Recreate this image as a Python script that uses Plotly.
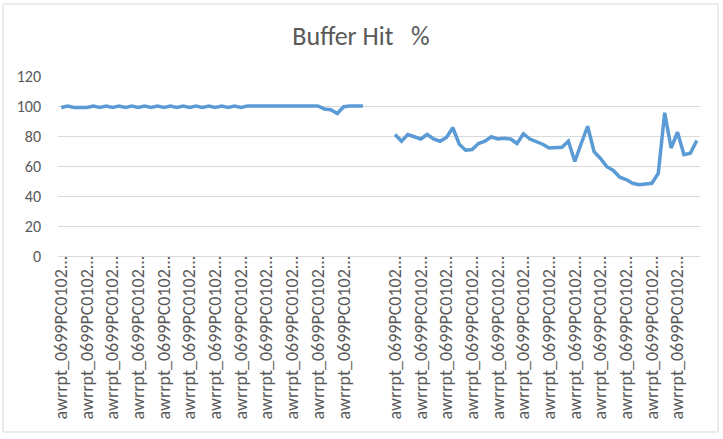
import plotly.graph_objects as go

# category labels as Excel shows them (truncated); 4 blank separator rows in the middle
report_name = "awrrpt_0699PC0102..."
categories = [report_name] * 48 + [""] * 4 + [report_name] * 48

# buffer hit % per report, None where the separator rows are
hit_pct_before = [99, 100, 99, 99, 99, 100, 99, 100, 99, 100,
                  99, 100, 99, 100, 99, 100, 99, 100, 99, 100,
                  99, 100, 99, 100, 99, 100, 99, 100, 99, 100,
                  100, 100, 100, 100, 100, 100, 100, 100, 100, 100,
                  100, 98, 97.5, 95, 99.5, 100, 100, 100]
gap = [None, None, None, None]
hit_pct_after = [81, 76.5, 81, 79.5, 78, 81, 78, 76.5, 79, 85.5,
                 74.5, 70.5, 71, 75, 76.5, 79.5, 78, 78.5, 78, 75,
                 81.5, 78, 76.5, 74.5, 72, 72, 72.5, 76.5, 63, 75,
                 86.5, 69.5, 65, 59.5, 57, 52.5, 51, 48.5, 47.5, 48,
                 48.5, 55, 95.5, 72, 82.5, 67.5, 68.5, 77]
hit_pct = hit_pct_before + gap + hit_pct_after

y_ticks = [0, 20, 40, 60, 80, 100, 120]

x_idx = list(range(len(categories)))
tick_vals = [i for i in x_idx if i % 4 == 0 and categories[i]]
tick_text = [categories[i] for i in tick_vals]

grey_txt = "#595959"
grid_col = "#d9d9d9"
font_fam = "Carlito, Calibri, Lato, sans-serif"

fig = go.Figure()
fig.add_trace(go.Scatter(
    x=x_idx, y=hit_pct,
    mode="lines",
    line=dict(color="#5b9bd5", width=3.5),
    connectgaps=False,
    showlegend=False,
))

# plot area in pixels: left 58, right 23, top 76, bottom 183
W, H = 723, 439
ml, mr, mt, mb = 58, 23, 76, 183
pw, ph = W - ml - mr, H - mt - mb

def px_x(x):
    return (x - ml) / pw

def px_y(y):
    return (H - mb - y) / ph

fig.update_layout(
    width=W, height=H,
    margin=dict(l=ml, r=mr, t=mt, b=mb),
    paper_bgcolor="white",
    plot_bgcolor="white",
    font=dict(family=font_fam, color=grey_txt),
    title=dict(
        text="Buffer\u00a0Hit\u00a0\u00a0\u00a0%",
        x=361 / W, xanchor="center", xref="container",
        y=1 - 36 / H, yanchor="middle", yref="container",
        font=dict(size=26, color=grey_txt, family=font_fam),
    ),
    shapes=[dict(
        type="rect", xref="paper", yref="paper",
        x0=px_x(3), x1=px_x(718), y0=px_y(432), y1=px_y(4),
        line=dict(color=grid_col, width=1),
        fillcolor="rgba(0,0,0,0)",
    )],
)

fig.update_xaxes(
    range=[-0.5, len(categories) - 0.5],
    tickvals=tick_vals, ticktext=tick_text,
    tickangle=-90,
    tickfont=dict(size=18, color=grey_txt),
    showgrid=False, zeroline=False,
    showline=False, ticks="",
    ticklabelstandoff=-5,
)
fig.update_yaxes(
    range=[0, 120],
    tickvals=y_ticks,
    tickfont=dict(size=16, color=grey_txt),
    showgrid=True, gridcolor=grid_col, gridwidth=1,
    zeroline=True, zerolinecolor=grid_col, zerolinewidth=1,
    showline=False, ticks="",
    ticklabelstandoff=16,
)

# page body has an 8px default margin; drop it so the chart sits at the window corner
fig.write_html(
    "out.html",
    config={"displayModeBar": False},
    post_script="document.body.style.margin='0';document.body.style.overflow='hidden';",
)
